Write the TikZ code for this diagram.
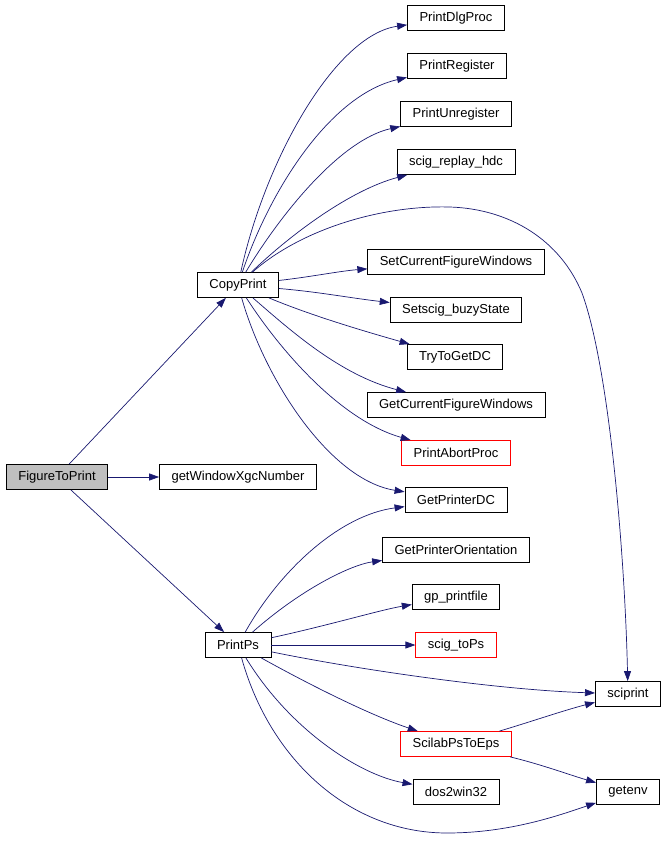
\documentclass[tikz,border=0pt]{standalone}
\usepackage{fontspec}
\setmainfont{Liberation Sans}
\usetikzlibrary{arrows.meta}
\definecolor{callblue}{HTML}{191970}

\begin{document}
\begin{tikzpicture}[x=1pt,y=-1pt,
	fn/.style={draw=black,line width=0.8pt,fill=white,minimum height=25pt,inner xsep=12pt,inner ysep=2pt,font=\fontsize{13}{15}\selectfont},
	fnroot/.style={fn,fill=gray!50},
	fnmissing/.style={fn,draw=red},
	call/.style={draw=callblue,line width=0.7pt,-{Triangle[length=10pt,width=7pt]}}]
				\useasboundingbox (0,0) rectangle (666,854);
				\node[fnroot] (fig) at (57,477) {FigureToPrint};
				\node[fn] (xgc) at (238,477) {getWindowXgcNumber};
				\node[fn] (cp) at (238,285) {CopyPrint};
				\node[fn] (ps) at (238,645) {PrintPs};
				\node[fn] (dlg) at (456,18) {PrintDlgProc};
				\node[fn] (reg) at (457,66) {PrintRegister};
				\node[fn] (unreg) at (456,114) {PrintUnregister};
				\node[fn] (replay) at (456,162) {scig\_replay\_hdc};
				\node[fn] (setwin) at (456,262) {SetCurrentFigureWindows};
				\node[fn] (busy) at (456,310) {Setscig\_buzyState};
				\node[fn] (trydc) at (455,357) {TryToGetDC};
				\node[fn] (getwin) at (456,405) {GetCurrentFigureWindows};
				\node[fnmissing] (abort) at (456,453) {PrintAbortProc};
				\node[fn] (prdc) at (456,500) {GetPrinterDC};
				\node[fn] (orient) at (456,550) {GetPrinterOrientation};
				\node[fn] (gpfile) at (456,597) {gp\_printfile};
				\node[fnmissing] (tops) at (456,645) {scig\_toPs};
				\node[fn] (sciprint) at (628,694) {sciprint};
				\node[fnmissing] (toeps) at (456,744) {ScilabPsToEps};
				\node[fn] (dos) at (456,792) {dos2win32};
				\node[fn] (getenv) at (628,792) {getenv};
				% FigureToPrint
				\draw[call] (fig) -- (cp);
				\draw[call] (fig) -- (xgc);
				\draw[call] (fig) -- (ps);
				% CopyPrint
				\draw[call] (cp) .. controls (265,160) and (335,35) .. (dlg);
				\draw[call] (cp) .. controls (270,190) and (330,95) .. (reg);
				\draw[call] (cp) .. controls (280,215) and (340,140) .. (unreg);
				\draw[call] (cp) .. controls (290,235) and (350,190) .. (replay);
				\draw[call] (cp) .. controls (300,230) and (380,205) .. (450,207)
					.. controls (510,209) and (560,240) .. (582,293)
					.. controls (610,370) and (625,560) .. (sciprint);
				\draw[call] (cp) .. controls (310,277) and (340,271) .. (setwin);
				\draw[call] (cp) .. controls (320,292) and (350,298) .. (busy);
				\draw[call] (cp) .. controls (310,315) and (360,330) .. (trydc);
				\draw[call] (cp) .. controls (290,330) and (340,375) .. (getwin);
				\draw[call] (cp) .. controls (280,350) and (340,420) .. (abort);
				\draw[call] (cp) .. controls (265,380) and (330,480) .. (prdc);
				% PrintPs
				\draw[call] (ps) .. controls (280,570) and (340,515) .. (prdc);
				\draw[call] (ps) .. controls (300,590) and (350,565) .. (orient);
				\draw[call] (ps) .. controls (330,625) and (380,610) .. (gpfile);
				\draw[call] (ps) -- (tops);
				\draw[call] (ps) .. controls (360,670) and (500,690) .. (sciprint);
				\draw[call] (ps) .. controls (310,685) and (370,715) .. (toeps);
				\draw[call] (ps) .. controls (290,730) and (360,775) .. (dos);
				\draw[call] (ps) .. controls (270,760) and (350,833) .. (447,833)
					.. controls (510,833) and (560,815) .. (getenv);
				% ScilabPsToEps
				\draw[call] (toeps) .. controls (530,722) and (565,710) .. (sciprint);
				\draw[call] (toeps) .. controls (540,764) and (570,775) .. (getenv);
			\end{tikzpicture}
\end{document}
